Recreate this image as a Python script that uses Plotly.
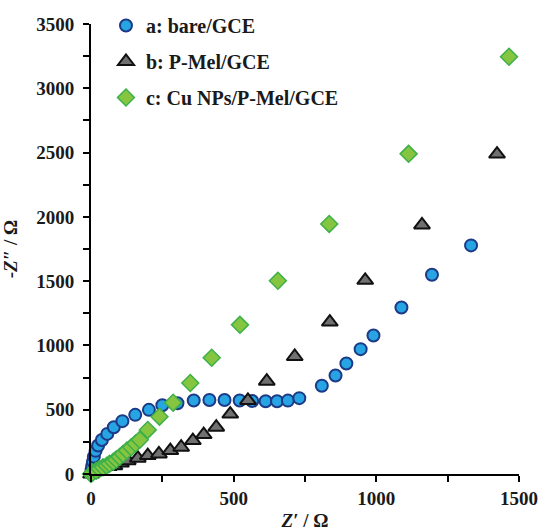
import plotly.graph_objects as go

# Series a: bare/GCE
a_x = [2, 4, 7, 10, 16, 25, 38, 57, 80, 110, 155, 203, 250, 303, 360, 415, 468, 521, 565, 612, 652, 690, 730, 809, 857, 895, 945, 990, 1088, 1195, 1332]
a_y = [30, 62, 96, 135, 180, 222, 265, 312, 364, 411, 460, 499, 535, 550, 572, 575, 575, 572, 568, 566, 566, 571, 590, 686, 766, 860, 971, 1077, 1295, 1550, 1778]

# Series b: P-Mel/GCE
b_x = [0, 8, 18, 42, 62, 82, 105, 129, 164, 199, 238, 278, 316, 357, 395, 439, 488, 550, 616, 714, 837, 961, 1160, 1423]
b_y = [0, 15, 31, 52, 58, 65, 85, 104, 123, 143, 156, 182, 208, 260, 307, 364, 466, 572, 722, 914, 1182, 1506, 1937, 2488]

# Series c: Cu NPs/P-Mel/GCE
c_x = [0, 5, 18, 30, 42, 55, 65, 78, 88, 100, 112, 126, 141, 156, 171, 199, 240, 288, 348, 423, 522, 655, 835, 1113, 1465]
c_y = [0, 10, 26, 40, 52, 65, 79, 95, 112, 133, 156, 182, 208, 237, 266, 343, 446, 555, 708, 904, 1160, 1503, 1945, 2490, 3245]

names = ["a: bare/GCE", "b: P-Mel/GCE", "c: Cu NPs/P-Mel/GCE"]

font_family = "Liberation Serif"

fig = go.Figure()
fig.add_trace(go.Scatter(
    x=a_x, y=a_y, mode="markers", name=names[0], legendgroup="a",
    cliponaxis=False,
    marker=dict(symbol="circle", size=12, color="#27a4e4",
                line=dict(color="#1c3a86", width=2))))
fig.add_trace(go.Scatter(
    x=b_x, y=b_y, mode="markers", name=names[1], legendgroup="b",
    cliponaxis=False,
    marker=dict(symbol="triangle-up", size=14, color="#707070",
                line=dict(color="#111111", width=2))))
fig.add_trace(go.Scatter(
    x=c_x, y=c_y, mode="markers", name=names[2], legendgroup="c",
    cliponaxis=False,
    marker=dict(symbol="diamond", size=13, color="#86c540",
                line=dict(color="#3cb04a", width=1.5))))

axis_common = dict(
    showline=True, linecolor="black", linewidth=2,
    ticks="outside", ticklen=6, tickwidth=2, tickcolor="black",
    showgrid=False, zeroline=False, automargin=False,
    tickfont=dict(family=font_family, size=19, color="#1a1a1a", weight="bold"),
)

fig.update_xaxes(
    range=[0, 1500], dtick=500, tick0=0,
    minor=dict(dtick=250, ticks="outside", ticklen=6, tickwidth=2, tickcolor="black"),
    title=dict(text="<i>Z′</i> / Ω", standoff=6,
               font=dict(family=font_family, size=19, color="#1a1a1a", weight="bold")),
    **axis_common)
fig.update_yaxes(
    range=[0, 3500], dtick=500, tick0=0,
    ticklabelstandoff=5,
    minor=dict(dtick=250, ticks="outside", ticklen=6, tickwidth=2, tickcolor="black"),
    title=dict(text="-<i>Z″</i> / Ω", standoff=14,
               font=dict(family=font_family, size=19, color="#1a1a1a", weight="bold")),
    **axis_common)

fig.update_layout(
    width=539, height=531,
    margin=dict(l=91, r=20, t=24, b=57, autoexpand=False),
    plot_bgcolor="white", paper_bgcolor="white",
    legend=dict(x=0.035, y=1.04, xanchor="left", yanchor="top",
                bgcolor="rgba(0,0,0,0)", tracegroupgap=7, itemwidth=30,
                font=dict(family=font_family, size=20, color="#1a1a1a", weight="bold")),
)

fig.write_html(
    "out.html",
    config={"displayModeBar": False},
    post_script="document.body.style.margin='0';document.body.style.overflow='hidden';",
)
